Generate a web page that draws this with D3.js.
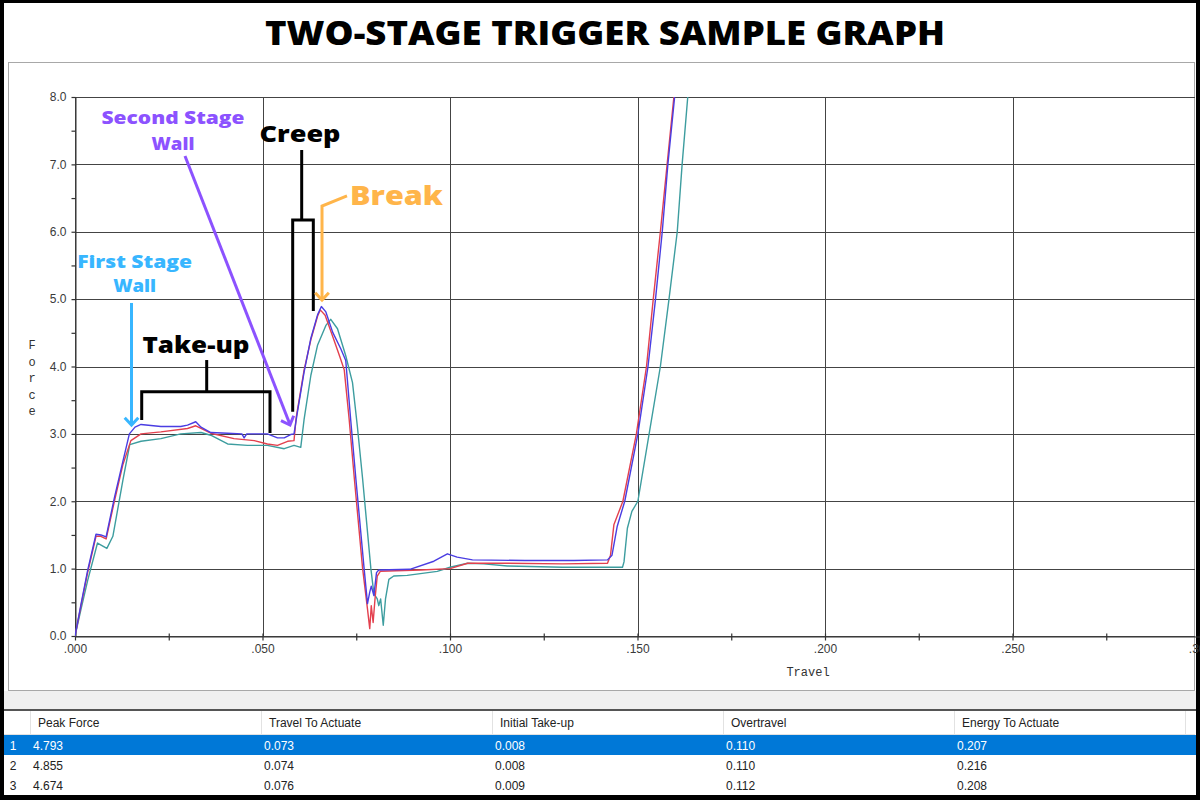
<!DOCTYPE html>
<html>
<head>
<meta charset="utf-8">
<script src="https://cdn.jsdelivr.net/npm/d3@7"></script>
<style>
  body { margin: 0; background: #000; }
</style>
</head>
<body>
<div class="svg-container"></div>
<script>

/*** Data ***/

// run 1 (red)
let run1Travel = [0, 0.0017, 0.0034, 0.0056, 0.0069, 0.0083, 0.0105, 0.0128, 0.0149, 0.0176, 0.0229, 0.0300, 0.0322, 0.0336, 0.0362, 0.0424, 0.0478, 0.0513, 0.0540, 0.0567, 0.0584, 0.0590, 0.0611, 0.0629, 0.0647, 0.0654, 0.0667, 0.0687, 0.0706, 0.0718, 0.0731, 0.0745, 0.0767, 0.0780, 0.0786, 0.0790, 0.0795, 0.0800, 0.0806, 0.0814, 0.0922, 0.1000, 0.1047, 0.1150, 0.1300, 0.1420, 0.1428, 0.1437, 0.1461, 0.1497, 0.1524, 0.1542, 0.1561, 0.1579, 0.1597, 0.1608]
let run1Force  = [0, 0.48, 0.95, 1.48, 1.48, 1.44, 2.00, 2.55, 2.90, 3.00, 3.03, 3.08, 3.12, 3.08, 3.01, 2.93, 2.90, 2.85, 2.83, 2.89, 2.90, 3.25, 3.95, 4.40, 4.75, 4.84, 4.76, 4.45, 4.15, 3.95, 3.22, 2.33, 1.00, 0.40, 0.11, 0.45, 0.20, 0.55, 0.89, 0.96, 0.98, 1.00, 1.08, 1.08, 1.07, 1.08, 1.20, 1.65, 2.00, 3.00, 4.00, 5.00, 6.00, 7.00, 8.00, 8.50]

// run 2 (blue)
let run2Travel = [0, 0.0017, 0.0034, 0.0056, 0.0069, 0.0083, 0.0105, 0.0128, 0.0145, 0.0160, 0.0176, 0.0229, 0.0282, 0.0300, 0.0322, 0.0336, 0.0362, 0.0407, 0.0445, 0.0451, 0.0458, 0.0513, 0.0540, 0.0558, 0.0575, 0.0584, 0.0593, 0.0611, 0.0629, 0.0647, 0.0657, 0.0669, 0.0687, 0.0709, 0.0722, 0.0735, 0.0749, 0.0771, 0.0780, 0.0786, 0.0790, 0.0797, 0.0804, 0.0810, 0.0893, 0.0957, 0.0993, 0.1019, 0.1060, 0.1200, 0.1330, 0.1420, 0.1432, 0.1446, 0.1466, 0.1501, 0.1528, 0.1548, 0.1566, 0.1581, 0.1599, 0.1610]
let run2Force  = [0, 0.50, 0.98, 1.51, 1.50, 1.47, 2.05, 2.60, 3.00, 3.10, 3.14, 3.11, 3.11, 3.13, 3.18, 3.10, 3.02, 3.01, 3.00, 2.94, 3.00, 3.00, 2.94, 2.94, 2.99, 3.00, 3.32, 3.92, 4.42, 4.77, 4.89, 4.81, 4.51, 4.26, 4.09, 3.22, 2.33, 1.00, 0.48, 0.65, 0.74, 0.60, 0.94, 0.98, 0.99, 1.11, 1.22, 1.17, 1.13, 1.12, 1.12, 1.13, 1.20, 1.63, 2.00, 3.00, 4.00, 5.00, 6.00, 7.00, 8.00, 8.50]

// run 3 (teal)
let run3Travel = [0, 0.0017, 0.0034, 0.0060, 0.0085, 0.0101, 0.0128, 0.0146, 0.0176, 0.0229, 0.0282, 0.0336, 0.0362, 0.0407, 0.0460, 0.0513, 0.0558, 0.0584, 0.0602, 0.0611, 0.0629, 0.0647, 0.0669, 0.0682, 0.0700, 0.0722, 0.0740, 0.0753, 0.0767, 0.0789, 0.0797, 0.0806, 0.0810, 0.0815, 0.0822, 0.0828, 0.0837, 0.0850, 0.0886, 0.0966, 0.1000, 0.1047, 0.1090, 0.1153, 0.1300, 0.1460, 0.1464, 0.1473, 0.1485, 0.1501, 0.1531, 0.1561, 0.1584, 0.1606, 0.1619, 0.1634, 0.1642]
let run3Force  = [0, 0.42, 0.83, 1.38, 1.30, 1.48, 2.32, 2.84, 2.89, 2.93, 3.00, 3.02, 2.98, 2.85, 2.83, 2.83, 2.78, 2.83, 2.80, 3.22, 3.87, 4.32, 4.61, 4.70, 4.56, 4.16, 3.76, 3.11, 2.33, 1.00, 0.63, 0.55, 0.45, 0.55, 0.16, 0.55, 0.84, 0.89, 0.90, 0.96, 1.02, 1.08, 1.07, 1.04, 1.02, 1.02, 1.10, 1.60, 1.85, 2.00, 3.00, 4.00, 5.00, 6.00, 7.00, 8.00, 8.50]

let yTicks = [0, 1, 2, 3, 4, 5, 6, 7, 8]
let yMinorTicks = [0, 0.5, 1, 1.5, 2, 2.5, 3, 3.5, 4, 4.5, 5, 5.5, 6, 6.5, 7, 7.5, 8]
let xTicks = [0, 0.05, 0.10, 0.15, 0.20, 0.25, 0.30]
let xMinorTicks = [0, 0.025, 0.05, 0.075, 0.10, 0.125, 0.15, 0.175, 0.20, 0.225, 0.25, 0.275, 0.30]

// results table
let tableHeaders = ['Peak Force', 'Travel To Actuate', 'Initial Take-up', 'Overtravel', 'Energy To Actuate']
let peakForce = [4.793, 4.855, 4.674]
let travelToActuate = [0.073, 0.074, 0.076]
let initialTakeup = [0.008, 0.008, 0.009]
let overtravel = [0.110, 0.110, 0.112]
let energyToActuate = [0.207, 0.216, 0.208]

const svgWidth = 1200
const svgHeight = 800

const plotLeft = 75
const plotRight = 1200
const plotTop = 97
const plotBottom = 636

const panelRight = 1195

let svg = d3.select('.svg-container')
    .append("svg")
    .attr("width", svgWidth)
    .attr("height", svgHeight)
    .style("display", "block")

/* frame + panel */

svg.append("rect")
    .attr("width", svgWidth)
    .attr("height", svgHeight)
    .attr("fill", "black")

svg.append("rect")
    .attr("x", 4)
    .attr("y", 3)
    .attr("width", panelRight - 4 + 1)
    .attr("height", 792)
    .attr("fill", "white")

svg.append("rect")
    .attr("x", 8.5)
    .attr("y", 62.5)
    .attr("width", panelRight - 9)
    .attr("height", 628)
    .attr("fill", "white")
    .attr("stroke", "#a8a8a8")

svg.append("text")
    .attr("x", 605)
    .attr("y", 45)
    .style("text-anchor", "middle")
    .style("font-family", "'Open Sans', 'DejaVu Sans', sans-serif")
    .style("font-weight", "800")
    .style("font-size", "33px")
    .attr("textLength", 680)
    .attr("lengthAdjust", "spacingAndGlyphs")
    .attr("fill", "black")
    .text("TWO-STAGE TRIGGER SAMPLE GRAPH")

/* Scales */

let xScale = d3.scaleLinear()
    .domain([0, 0.3])
    .range([plotLeft, plotRight])

let yScale = d3.scaleLinear()
    .domain([0, 8])
    .range([plotBottom, plotTop])

svg.append("clipPath")
    .attr("id", "plot-clip")
    .append("rect")
    .attr("x", plotLeft)
    .attr("y", plotTop)
    .attr("width", panelRight - plotLeft)
    .attr("height", plotBottom - plotTop + 2)

/* grid */

let grid = svg.append("g").attr("clip-path", "url(#plot-clip)")

grid.selectAll(".hgrid")
    .data(yTicks)
    .enter()
    .append("line")
    .attr("x1", plotLeft)
    .attr("x2", panelRight)
    .attr("y1", d => Math.round(yScale(d)) + 0.5)
    .attr("y2", d => Math.round(yScale(d)) + 0.5)
    .attr("stroke", "#444")

grid.selectAll(".vgrid")
    .data(xTicks)
    .enter()
    .append("line")
    .attr("x1", d => Math.round(xScale(d)) + 0.5)
    .attr("x2", d => Math.round(xScale(d)) + 0.5)
    .attr("y1", plotTop)
    .attr("y2", plotBottom)
    .attr("stroke", "#444")

/* axes */

let leftAxis = d3.axisLeft(yScale)
    .tickValues(yMinorTicks)
    .tickSize(4)
    .tickSizeOuter(0)
    .tickPadding(5)
    .tickFormat(d => Number.isInteger(d) ? d3.format(".1f")(d) : "")

let yAxis = svg.append("g")
    .attr("transform", `translate(${plotLeft + 0.5}, 0)`)
    .call(leftAxis)

let bottomAxis = d3.axisBottom(xScale)
    .tickValues(xMinorTicks)
    .tickSize(4)
    .tickSizeOuter(0)
    .tickPadding(4)
    .tickFormat(d => xTicks.some(t => Math.abs(t - d) < 1e-9) ? d3.format(".3f")(d).replace(/^0/, "") : "")

let xAxis = svg.append("g")
    .attr("transform", `translate(0, ${plotBottom + 0.5})`)
    .call(bottomAxis)

for (let ax of [xAxis, yAxis]) {
    ax.select(".domain").attr("stroke", "#333")
    ax.selectAll("line").attr("stroke", "#333").attr("stroke-width", 1.2)
    ax.selectAll("text")
        .attr("fill", "#3a3a3a")
        .style("font-family", "'Liberation Sans', Arial, sans-serif")
        .style("font-size", "12px")
}
xAxis.selectAll(".tick line").attr("y1", -3)

svg.append("text")
    .attr("x", 808)
    .attr("y", 676)
    .style("text-anchor", "middle")
    .style("font-family", "'Liberation Mono', 'DejaVu Sans Mono', monospace")
    .style("font-size", "12px")
    .attr("fill", "#333")
    .text("Travel")

svg.append("g")
    .selectAll("text")
    .data("Force".split(""))
    .enter()
    .append("text")
    .attr("x", 32)
    .attr("y", (d, i) => 349 + i * 16.6)
    .style("text-anchor", "middle")
    .style("font-family", "'Liberation Mono', 'DejaVu Sans Mono', monospace")
    .style("font-size", "12px")
    .attr("fill", "#333")
    .text(d => d)

/* curves */

let runs = [
    { travel: run3Travel, force: run3Force, color: "#3d9d9f" },
    { travel: run1Travel, force: run1Force, color: "#e3404e" },
    { travel: run2Travel, force: run2Force, color: "#4a3de2" }
]

let line = d3.line()
    .x(d => xScale(d[0]))
    .y(d => yScale(d[1]))

let curves = svg.append("g").attr("clip-path", "url(#plot-clip)")

curves.selectAll("path")
    .data(runs)
    .enter()
    .append("path")
    .attr("d", r => line(d3.zip(r.travel, r.force)))
    .attr("fill", "none")
    .attr("stroke", r => r.color)
    .attr("stroke-width", 1.4)
    .attr("stroke-linejoin", "round")

/* annotations (placed in travel / force units) */

const at = (t, f) => [xScale(t), yScale(f)]
const annoFont = "'Open Sans', 'DejaVu Sans', sans-serif"

let anno = svg.append("g")
    .attr("fill", "none")
    .attr("stroke-width", 3)
    .attr("stroke-linecap", "butt")
    .attr("stroke-linejoin", "miter")

function poly(points, color) {
    anno.append("path")
        .attr("d", d3.line()(points.map(p => at(p[0], p[1]))))
        .attr("stroke", color)
}

function arrowHead(from, to, color) {
    let a = at(from[0], from[1]), b = at(to[0], to[1])
    let ang = Math.atan2(b[1] - a[1], b[0] - a[0])
    let len = 10, spread = 0.75
    let p1 = [b[0] - len * Math.cos(ang - spread), b[1] - len * Math.sin(ang - spread)]
    let p2 = [b[0] - len * Math.cos(ang + spread), b[1] - len * Math.sin(ang + spread)]
    anno.append("path")
        .attr("d", d3.line()([p1, b, p2]))
        .attr("stroke", color)
}

// lines: [text, width]
function label(lines, t, f, size, color, anchor, gap) {
    let p = at(t, f)
    lines.forEach((ln, i) => {
        svg.append("text")
            .attr("x", p[0])
            .attr("y", p[1] + i * gap)
            .style("text-anchor", anchor)
            .style("font-family", annoFont)
            .style("font-weight", "800")
            .style("font-size", size + "px")
            .attr("textLength", ln[1])
            .attr("lengthAdjust", "spacingAndGlyphs")
            .attr("fill", color)
            .text(ln[0])
    })
}

// first stage wall
let fsColor = "#38b6ff"
poly([[0.01507, 4.943], [0.01507, 3.14]], fsColor)
arrowHead([0.01507, 4.943], [0.01507, 3.13], fsColor)
label([["First Stage", 115], ["Wall", 43]], 0.0159, 5.462, 18, fsColor, "middle", 24.5)

// second stage wall
let ssColor = "#8c52ff"
poly([[0.02933, 7.124], [0.05733, 3.14]], ssColor)
arrowHead([0.02933, 7.124], [0.05733, 3.132], ssColor)
label([["Second Stage", 143], ["Wall", 43]], 0.02613, 7.599, 18, ssColor, "middle", 26)

// take-up bracket
poly([[0.03512, 4.096], [0.03512, 3.626]], "black")
poly([[0.01779, 3.206], [0.01779, 3.626], [0.052, 3.626], [0.052, 3.013]], "black")
label([["Take-up", 107]], 0.03227, 4.2, 23, "black", "middle", 0)

// creep bracket
poly([[0.06045, 7.213], [0.06045, 6.174]], "black")
poly([[0.05805, 3.329], [0.05805, 6.174], [0.06355, 6.174], [0.06355, 4.824]], "black")
label([["Creep", 81]], 0.06, 7.332, 23, "black", "middle", 0)

// break
let brColor = "#ffb54a"
poly([[0.07253, 6.531], [0.06587, 6.382], [0.06587, 5.0]], brColor)
arrowHead([0.06587, 6.382], [0.06587, 4.987], brColor)
label([["Break", 93]], 0.07333, 6.397, 27, brColor, "start", 0)

/* results table */

svg.append("rect")
    .attr("x", 4).attr("y", 691)
    .attr("width", panelRight - 4 + 1).attr("height", 18)
    .attr("fill", "#f0f0f0")

svg.append("line")
    .attr("x1", 4).attr("x2", panelRight + 1)
    .attr("y1", 710).attr("y2", 710)
    .attr("stroke", "#555").attr("stroke-width", 2)

const colLeft = 30
const colWidth = 231
const headerTop = 711
const headerHeight = 24
const rowHeight = 20

let table = svg.append("g")
    .style("font-family", "'Liberation Sans', Arial, sans-serif")
    .style("font-size", "12px")

// header separators
table.selectAll(".sep")
    .data(d3.range(tableHeaders.length + 1))
    .enter()
    .append("line")
    .attr("x1", i => colLeft + i * colWidth + 0.5)
    .attr("x2", i => colLeft + i * colWidth + 0.5)
    .attr("y1", headerTop)
    .attr("y2", headerTop + headerHeight)
    .attr("stroke", "#e2e2e2")

table.append("line")
    .attr("x1", 4).attr("x2", panelRight)
    .attr("y1", headerTop + headerHeight - 0.5).attr("y2", headerTop + headerHeight - 0.5)
    .attr("stroke", "#e2e2e2")

table.selectAll(".head")
    .data(tableHeaders)
    .enter()
    .append("text")
    .attr("x", (d, i) => colLeft + i * colWidth + 8)
    .attr("y", headerTop + 16)
    .attr("fill", "#222")
    .text(d => d)

let rows = d3.range(peakForce.length).map(i =>
    [peakForce[i], travelToActuate[i], initialTakeup[i], overtravel[i], energyToActuate[i]])

let rowG = table.selectAll(".row")
    .data(rows)
    .enter()
    .append("g")
    .attr("transform", (d, i) => `translate(0, ${headerTop + headerHeight + i * rowHeight})`)

rowG.filter((d, i) => i === 0)
    .append("rect")
    .attr("x", 4)
    .attr("width", panelRight - 4 + 1)
    .attr("height", rowHeight)
    .attr("fill", "#0078d7")

rowG.append("text")
    .attr("x", 13)
    .attr("y", 15)
    .style("text-anchor", "middle")
    .attr("fill", (d, i) => i === 0 ? "white" : "#222")
    .text((d, i) => i + 1)

rowG.selectAll(".cell")
    .data((d, i) => d.map(v => ({ v, sel: i === 0 })))
    .enter()
    .append("text")
    .attr("x", (c, j) => colLeft + j * colWidth + 3)
    .attr("y", 15)
    .attr("fill", c => c.sel ? "white" : "#222")
    .text(c => c.v.toFixed(3))

</script>
</body>
</html>
